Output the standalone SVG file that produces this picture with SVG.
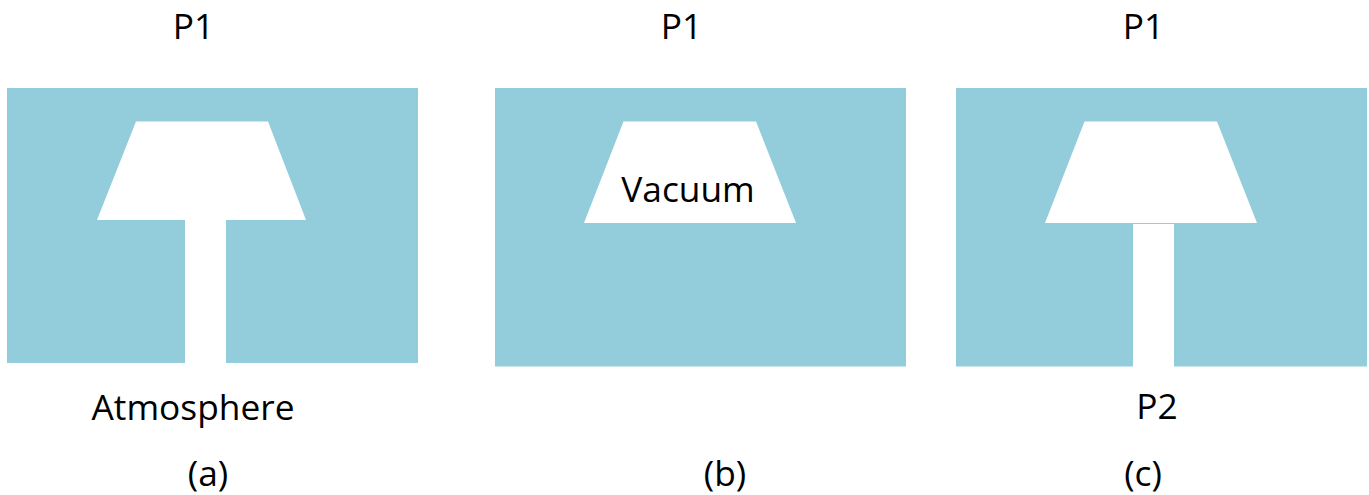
<svg xmlns="http://www.w3.org/2000/svg" width="1369" height="495" viewBox="0 0 1369 495">
<style>
.b{fill:#93cddc}
.w{fill:#fff}
text{font-family:"Open Sans","Liberation Sans",sans-serif;font-size:35.3px;fill:#000;text-anchor:middle}
</style>
<rect width="1369" height="495" fill="#fff"/>
<g id="panel-a">
<rect class="b" x="7" y="88" width="411" height="275"/>
<polygon class="w" points="136,121.500 268,121.500 306,220 97,220"/>
<rect class="w" x="185" y="220" width="41" height="143"/>
<text x="193.500" y="39">P1</text>
<text x="193" y="420">Atmosphere</text>
<text x="208" y="486">(a)</text>
</g>
<g id="panel-b">
<rect class="b" x="495" y="88" width="411" height="278.500"/>
<polygon class="w" points="623.500,121.500 756,121.500 796,223 584,223"/>
<text x="681.500" y="39">P1</text>
<text x="688" y="201.500">Vacuum</text>
<text x="725" y="486">(b)</text>
</g>
<g id="panel-c">
<rect class="b" x="956" y="88" width="411" height="278.500"/>
<polygon class="w" points="1084.500,121.500 1217,121.500 1257,223 1045,223"/>
<rect class="w" x="1133" y="224" width="41" height="143"/>
<text x="1143.500" y="39">P1</text>
<text x="1157" y="419">P2</text>
<text x="1143" y="486">(c)</text>
</g>
<g id="connectors"/>
</svg>
